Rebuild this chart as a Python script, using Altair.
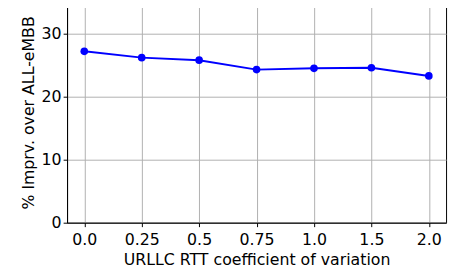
import altair as alt
import pandas as pd

categories = ["0.0", "0.25", "0.5", "0.75", "1.0", "1.5", "2.0"]
values = [27.2, 26.2, 25.8, 24.3, 24.5, 24.6, 23.3]
y_ticks = [0, 10, 20, 30]

df = pd.DataFrame({"cv": categories, "imprv": values})

FONT = "DejaVu Sans"

x = alt.X("cv:O", sort=categories,
          scale=alt.Scale(type="point", padding=0.3),
          axis=alt.Axis(title="URLLC RTT coefficient of variation", labelAngle=0,
                        labelFontSize=16, titleFontSize=16, labelFont=FONT, titleFont=FONT,
                        labelColor="black", titleColor="black", titleFontWeight="normal",
                        tickSize=4, tickColor="black", labelPadding=5, titlePadding=4,
                        domainColor="black", grid=True, gridColor="#b0b0b0", gridWidth=1))
y = alt.Y("imprv:Q", scale=alt.Scale(domain=[0, 35], nice=False, zero=True),
          axis=alt.Axis(title="% Imprv. over ALL-eMBB", values=y_ticks,
                        labelFontSize=16, titleFontSize=16, labelFont=FONT, titleFont=FONT,
                        labelColor="black", titleColor="black", titleFontWeight="normal",
                        tickSize=4, tickColor="black", labelPadding=2, titlePadding=5,
                        domainColor="black", grid=True, gridColor="#b0b0b0", gridWidth=1))

line = alt.Chart(df).mark_line(color="#0000ff", strokeWidth=2).encode(x=x, y=y)
pts = alt.Chart(df).mark_circle(color="#0000ff", opacity=1, size=60).encode(x=x, y=y)

chart = (line + pts).properties(
    width=385, height=224,
    autosize=alt.AutoSizeParams(type="none"),
    padding={"left": 60, "top": -8, "right": 4, "bottom": 50},
).configure_view(stroke="black", strokeWidth=1)

chart.save("out.html", embed_options={"renderer": "svg", "actions": False})
